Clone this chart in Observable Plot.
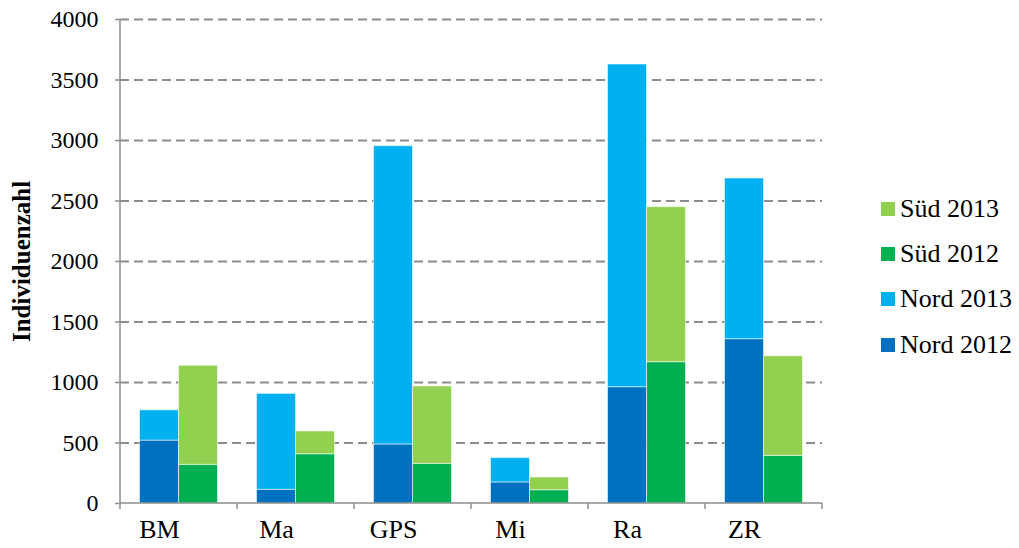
<!DOCTYPE html>
<html>
<head>
<meta charset="utf-8">
<script src="https://cdn.jsdelivr.net/npm/d3@7"></script>
<script src="https://cdn.jsdelivr.net/npm/@observablehq/plot@0.6"></script>
<style>
  html, body { margin: 0; padding: 0; background: #fff; }
  #wrap { position: relative; width: 1019px; height: 548px; }
  #chart svg g[aria-label="y-axis label"] text { font-weight: bold; font-size: 25px; }
  #legend { position: absolute; left: 881px; top: 186px; font-family: "Liberation Serif", serif; font-size: 26px; color: #000; }
  .item { display: flex; align-items: center; height: 45.3px; }
  .sw { width: 14px; height: 14px; margin-right: 5px; flex: none; }
</style>
</head>
<body>
<div id="wrap">
  <div id="chart"></div>
  <div id="legend"></div>
</div>
<script>
const categories = ["BM", "Ma", "GPS", "Mi", "Ra", "ZR"];
const nord2012 = [520, 113, 488, 174, 961, 1358];
const nord2013 = [250, 793, 2465, 201, 2667, 1328];
const sued2012 = [320, 407, 328, 110, 1168, 394];
const sued2013 = [818, 188, 639, 105, 1281, 823];
const seriesNames = ["Nord 2012", "Nord 2013", "Süd 2012", "Süd 2013"];
const seriesColors = ["#0070C0", "#00B0F0", "#00B050", "#92D050"];
const legendOrder = ["Süd 2013", "Süd 2012", "Nord 2013", "Nord 2012"];
const yTicks = [0, 500, 1000, 1500, 2000, 2500, 3000, 3500, 4000];
const yLabel = "Individuenzahl";

const nordData = [];
const suedData = [];
categories.forEach((c, i) => {
  nordData.push({cat: c, series: "Nord 2012", value: nord2012[i]});
  nordData.push({cat: c, series: "Nord 2013", value: nord2013[i]});
  suedData.push({cat: c, series: "Süd 2012", value: sued2012[i]});
  suedData.push({cat: c, series: "Süd 2013", value: sued2013[i]});
});

const axisColor = "#8c8c8c";

function axisLines(index, scales, values, dims) {
  const x = scales.x, y = scales.y;
  const bw = x.bandwidth ? x.bandwidth() : 0;
  const edges = [x(categories[0]), ...categories.map(c => x(c) + bw)];
  const y0 = y(0);
  const g = d3.create("svg:g").attr("stroke", axisColor).attr("stroke-width", 1.5).attr("fill", "none");
  g.selectAll("line.tick").data(edges).join("line")
    .attr("x1", d => d).attr("x2", d => d).attr("y1", y0).attr("y2", y0 + 6);
  g.append("line").attr("x1", edges[0]).attr("x2", edges[edges.length - 1]).attr("y1", y0).attr("y2", y0);
  g.append("line").attr("x1", edges[0]).attr("x2", edges[0]).attr("y1", y(yTicks[yTicks.length - 1])).attr("y2", y0);
  return g.node();
}

const barStyle = {x: "cat", y: "value", fill: "series", stroke: "#ffffff", strokeOpacity: 0.55, strokeWidth: 1};

const chart = Plot.plot({
  width: 1019,
  height: 548,
  marginLeft: 120,
  marginRight: 197,
  marginTop: 19,
  marginBottom: 45,
  style: {fontFamily: '"Liberation Serif", serif', color: "#000", background: "#fff"},
  x: {domain: categories, padding: 0, label: null},
  y: {domain: [0, 4000], label: null},
  color: {domain: seriesNames, range: seriesColors},
  marks: [
    Plot.ruleY(yTicks.filter(d => d > 0), {stroke: axisColor, strokeWidth: 2, strokeDasharray: "9,5"}),
    Plot.barY(nordData, {...barStyle, insetLeft: 19.5, insetRight: 58.5}),
    Plot.barY(suedData, {...barStyle, insetLeft: 58.5, insetRight: 19.5}),
    axisLines,
    Plot.axisY({ticks: yTicks, tickSize: 5, tickPadding: 17, fontSize: 24, stroke: axisColor, strokeWidth: 1.5,
      label: yLabel, labelAnchor: "center", labelOffset: 108, labelArrow: false, tickFormat: d => String(d)}),
    Plot.axisX({tickSize: 0, tickPadding: 16, fontSize: 26, dx: -19.5, label: null})
  ]
});
document.getElementById("chart").appendChild(chart);

const legend = d3.select("#legend");
legendOrder.forEach(name => {
  const item = legend.append("div").attr("class", "item");
  item.append("div").attr("class", "sw").style("background", seriesColors[seriesNames.indexOf(name)]);
  item.append("span").text(name);
});
</script>
</body>
</html>
